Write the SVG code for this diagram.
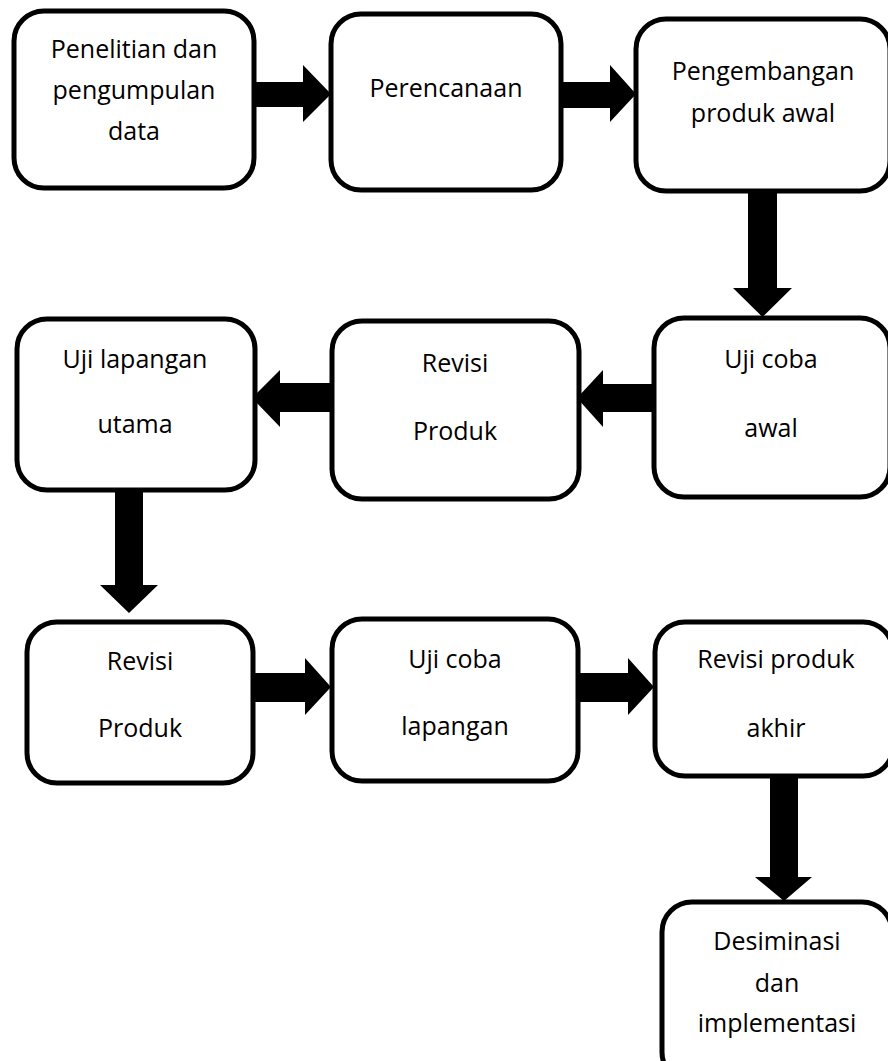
<svg xmlns="http://www.w3.org/2000/svg" width="888" height="1061" viewBox="0 0 888 1061">
<style>
.box{fill:#fff;stroke:#000;stroke-width:5}
.t{font-family:"Open Sans","Noto Sans",sans-serif;font-size:25px;fill:#000;text-anchor:middle}
.arr{fill:#000}
</style>
<rect width="888" height="1061" fill="#fff"/>
<g id="connectors">
<polygon class="arr" points="254,82 303,82 303,65 331,94 303,122 303,107 254,107"/>
<polygon class="arr" points="561,82 610,82 610,65 636,94 610,122 610,108 561,108"/>
<polygon class="arr" points="748,191 777,191 777,288 792,288 762.5,317 733,288 748,288"/>
<polygon class="arr" points="654,384 603,384 603,370 577,398 603,427 603,412 654,412"/>
<polygon class="arr" points="332,383 280,383 280,370 252,398 280,427 280,412 332,412"/>
<polygon class="arr" points="115,490 143,490 143,585 158,585 129,613 100,585 115,585"/>
<polygon class="arr" points="253,673 305,673 305,658 331,687 305,715 305,702 253,702"/>
<polygon class="arr" points="578,673 628,673 628,658 654,687 628,715 628,702 578,702"/>
<polygon class="arr" points="770,776 798,776 798,877 812,877 784,901 755,877 770,877"/>
</g>
<g id="node1">
<rect class="box" x="14" y="11" width="240" height="177" rx="30"/>
<text class="t" x="134" y="58">Penelitian dan</text>
<text class="t" x="134" y="99">pengumpulan</text>
<text class="t" x="134" y="140">data</text>
</g>
<g id="node2">
<rect class="box" x="331" y="14" width="230" height="176" rx="30"/>
<text class="t" x="446" y="97">Perencanaan</text>
</g>
<g id="node3">
<rect class="box" x="636" y="19" width="254" height="172" rx="30"/>
<text class="t" x="763" y="80">Pengembangan</text>
<text class="t" x="763" y="122">produk awal</text>
</g>
<g id="node4">
<rect class="box" x="654" y="318" width="236" height="179" rx="30"/>
<text class="t" x="771" y="368">Uji coba</text>
<text class="t" x="771" y="437">awal</text>
</g>
<g id="node5">
<rect class="box" x="332" y="321" width="247" height="178" rx="30"/>
<text class="t" x="455" y="372">Revisi</text>
<text class="t" x="455" y="440">Produk</text>
</g>
<g id="node6">
<rect class="box" x="17" y="319" width="238" height="171" rx="30"/>
<text class="t" x="135" y="368">Uji lapangan</text>
<text class="t" x="135" y="433">utama</text>
</g>
<g id="node7">
<rect class="box" x="27" y="622" width="226" height="161" rx="30"/>
<text class="t" x="140" y="670">Revisi</text>
<text class="t" x="140" y="737">Produk</text>
</g>
<g id="node8">
<rect class="box" x="332" y="619" width="246" height="162" rx="30"/>
<text class="t" x="455" y="668">Uji coba</text>
<text class="t" x="455" y="735">lapangan</text>
</g>
<g id="node9">
<rect class="box" x="655" y="622" width="238" height="154" rx="30"/>
<text class="t" x="776" y="668">Revisi produk</text>
<text class="t" x="776" y="737">akhir</text>
</g>
<g id="node10">
<rect class="box" x="662" y="902" width="230" height="180" rx="30"/>
<text class="t" x="777" y="950">Desiminasi</text>
<text class="t" x="777" y="992">dan</text>
<text class="t" x="777" y="1032">implementasi</text>
</g>
</svg>
